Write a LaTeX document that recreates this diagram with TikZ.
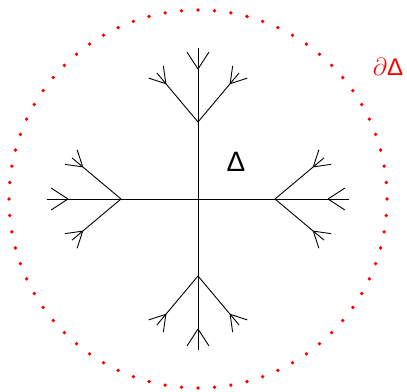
\documentclass[tikz,border=0pt]{standalone}
\usepackage{fontspec}
\setmainfont{Liberation Sans}
\begin{document}
\begin{tikzpicture}[x=1pt,y=1pt,
  stem/.style={line width=0.9pt,black},
  bdot/.style={fill=red},
  lbl/.style={inner sep=0pt,font=\fontsize{24}{28}\selectfont}]
\useasboundingbox (0,0) rectangle (407,391);
\coordinate (c) at (198,192);
% boundary dots
\foreach \a in {0,5,...,355}{
  \fill[bdot] ([shift={(\a:189)}]c) circle (1.9);
}
% four arms
\foreach \r in {0,90,180,270}{
  \begin{scope}[shift={(c)},rotate=\r]
    \draw[stem] (0,0) -- (151,0);
    \coordinate (f) at (130,0);
    \draw[stem] (f) -- ++(33:20) (f) -- ++(-33:20);
    \foreach \s in {1,-1}{
      \coordinate (b) at (77,0);
      \draw[stem] (b) -- ++(\s*40:50) coordinate (g) -- ++(\s*40:14);
      \draw[stem] (g) -- ++(\s*40+32:18) (g) -- ++(\s*40-32:18);
    }
  \end{scope}
}
\node[lbl,font=\fontsize{28}{32}\selectfont] (delta) at (236,229) {Δ};
\node[lbl,text=red] (bdelta) at (388,324) {$\partial$Δ};
\end{tikzpicture}
\end{document}
